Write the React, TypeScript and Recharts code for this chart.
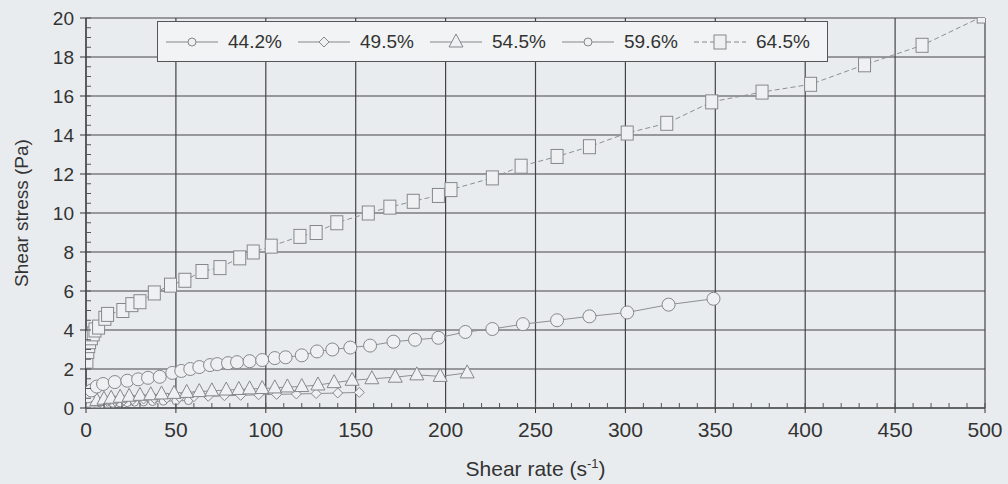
import React from 'react';
import {LineChart, Line, XAxis, YAxis, CartesianGrid} from 'recharts';

// shear rate (1/s) and shear stress (Pa)
const rate442 = [1, 2, 4, 6, 9, 12, 15, 19, 23, 27, 32, 37, 43, 50, 57];
const stress442 = [0.05, 0.1, 0.15, 0.18, 0.2, 0.22, 0.24, 0.26, 0.28, 0.3, 0.31, 0.33, 0.35, 0.37, 0.38];

const rate495 = [1, 3, 5, 8, 12, 16, 21, 26, 32, 38, 45, 52, 60, 68, 77, 86, 96, 106, 117, 128, 140, 152];
const stress495 = [0.15, 0.22, 0.27, 0.3, 0.34, 0.37, 0.4, 0.43, 0.46, 0.49, 0.52, 0.55, 0.58, 0.6, 0.63, 0.65, 0.68, 0.7, 0.72, 0.74, 0.77, 0.8];

const rate545 = [1, 3, 6, 10, 14, 19, 24, 30, 36, 42, 49, 56, 63, 70, 78, 85, 91, 98, 105, 112, 120, 129, 138, 148, 159, 172, 184, 197, 212];
const stress545 = [0.2, 0.3, 0.38, 0.45, 0.5, 0.55, 0.6, 0.65, 0.68, 0.72, 0.75, 0.8, 0.84, 0.88, 0.92, 0.95, 0.98, 1.0, 1.03, 1.08, 1.1, 1.18, 1.3, 1.42, 1.5, 1.58, 1.7, 1.62, 1.8];

const rate596 = [1, 3, 6, 9.5, 16, 23, 29, 34.5, 41, 48, 53, 58, 63, 69, 73, 79, 84, 91, 98, 105, 111, 120, 128.5, 137, 147, 158, 171, 183, 196, 211, 226, 243, 262, 280, 301, 324, 349];
const stress596 = [0.6, 0.9, 1.1, 1.23, 1.33, 1.4, 1.47, 1.55, 1.6, 1.8, 1.9, 2.0, 2.1, 2.2, 2.25, 2.3, 2.35, 2.4, 2.46, 2.56, 2.6, 2.7, 2.9, 3.0, 3.1, 3.2, 3.4, 3.5, 3.6, 3.9, 4.05, 4.3, 4.5, 4.7, 4.9, 5.3, 5.6];

const rate645 = [0.5, 1, 1.5, 2, 3, 4, 5, 7, 10.5, 12, 20.5, 25.5, 30, 38, 47, 55, 64.5, 74.5, 85.5, 93, 103, 119, 128, 139.5, 157, 169, 182, 196, 203, 226, 242, 262, 280, 301, 323, 348, 376, 403, 433, 465, 499];
const stress645 = [2.4, 2.9, 3.2, 3.4, 3.6, 3.8, 4.0, 4.15, 4.6, 4.8, 5.0, 5.3, 5.45, 5.9, 6.3, 6.55, 7.0, 7.2, 7.7, 8.0, 8.3, 8.8, 9.0, 9.5, 10.0, 10.3, 10.6, 10.9, 11.2, 11.8, 12.4, 12.9, 13.4, 14.1, 14.6, 15.7, 16.2, 16.6, 17.6, 18.6, 20.1];

const seriesNames = ['44.2%', '49.5%', '54.5%', '59.6%', '64.5%'];
const xTicks = [0, 50, 100, 150, 200, 250, 300, 350, 400, 450, 500];
const yTicks = [0, 2, 4, 6, 8, 10, 12, 14, 16, 18, 20];
const xMinorTicks = Array.from({length: 51}, (_, i) => i * 10);
const yMinorTicks = Array.from({length: 41}, (_, i) => i * 0.5);

const toPoints = (xs: number[], ys: number[]) => xs.map((x, i) => ({x, y: ys[i]}));

const MARK = '#85878a';
const FILL = '#eef0f2';
const BG = '#e9ecef';
const TEXT = '#333';
const SANS = 'Arial, "Liberation Sans", sans-serif';
const NARROW = '"Liberation Sans Narrow", Arial, sans-serif';

type Shape = 'circle' | 'smallCircle' | 'diamond' | 'triangle' | 'square';

const Marker = ({shape, cx, cy}: {shape: Shape; cx: number; cy: number}) => {
    if (shape === 'circle') return <circle cx={cx} cy={cy} r={6.5} fill={FILL} stroke={MARK} strokeWidth={1}/>;
    if (shape === 'smallCircle') return <circle cx={cx} cy={cy} r={4} fill={FILL} stroke={MARK} strokeWidth={1}/>;
    if (shape === 'diamond') return <path d={`M${cx},${cy - 5}L${cx + 5},${cy}L${cx},${cy + 5}L${cx - 5},${cy}Z`} fill={FILL} stroke={MARK} strokeWidth={1}/>;
    if (shape === 'triangle') return <path d={`M${cx},${cy - 8}L${cx + 7},${cy + 5}L${cx - 7},${cy + 5}Z`} fill={FILL} stroke={MARK} strokeWidth={1}/>;
    return <rect x={cx - 6} y={cy - 7} width={12} height={14} fill={FILL} stroke={MARK} strokeWidth={1}/>;
};

const dotOf = (shape: Shape) => (props: any) => (
    <Marker key={`${shape}-${props.index}`} shape={shape} cx={props.cx} cy={props.cy}/>
);

const series = [
    {name: seriesNames[0], data: toPoints(rate442, stress442), shape: 'smallCircle' as Shape, dash: undefined},
    {name: seriesNames[1], data: toPoints(rate495, stress495), shape: 'diamond' as Shape, dash: undefined},
    {name: seriesNames[2], data: toPoints(rate545, stress545), shape: 'triangle' as Shape, dash: undefined},
    {name: seriesNames[3], data: toPoints(rate596, stress596), shape: 'circle' as Shape, dash: undefined},
    {name: seriesNames[4], data: toPoints(rate645, stress645), shape: 'square' as Shape, dash: '5 3'},
];

const legendMarker: Shape[] = ['smallCircle', 'diamond', 'triangle', 'smallCircle', 'square'];

const ChartLegend = () => (
    <div style={{
        position: 'absolute', left: 157, top: 21, width: 671, height: 41,
        border: '1px solid #555', background: '#f1f3f4', display: 'flex', alignItems: 'center',
        boxSizing: 'border-box', paddingLeft: 6
    }}>
        {seriesNames.map((n, i) => (
            <div key={n} style={{display: 'flex', alignItems: 'center', width: 132}}>
                <svg width={56} height={20}>
                    <line x1={2} y1={10} x2={54} y2={10} stroke={MARK} strokeWidth={1}
                          strokeDasharray={i === 4 ? '5 3' : undefined}/>
                    <Marker shape={legendMarker[i]} cx={28} cy={10}/>
                </svg>
                <span style={{fontFamily: SANS, fontSize: 19, color: TEXT, marginLeft: 8}}>{n}</span>
            </div>
        ))}
    </div>
);

const X_MARGIN = 14;
const Y_MARGIN = 12;

// every 10 s-1 a short inward tick; labelled (with an outward tick) every 50
const XTick = ({x, y, payload}: any) => {
    const axisY = y - X_MARGIN;
    const major = payload.value % 50 === 0;
    return (
        <g>
            <line x1={x} y1={axisY} x2={x} y2={axisY - 5} stroke="#555"/>
            {major && <line x1={x} y1={axisY} x2={x} y2={axisY + 5} stroke={TEXT}/>}
            {major && (
                <text x={x} y={y} dy="0.71em" textAnchor="middle" fill={TEXT}
                      style={{fontFamily: NARROW, fontSize: 21}}>{payload.value}</text>
            )}
        </g>
    );
};

const YTick = ({x, y, payload}: any) => {
    const axisX = x + Y_MARGIN;
    const major = payload.value % 2 === 0;
    return (
        <g>
            <line x1={axisX} y1={y} x2={axisX + 5} y2={y} stroke="#555"/>
            {major && <line x1={axisX} y1={y} x2={axisX - 6} y2={y} stroke={TEXT}/>}
            {major && (
                <text x={x} y={y} dy="0.355em" textAnchor="end" fill={TEXT}
                      style={{fontFamily: SANS, fontSize: 19}}>{payload.value}</text>
            )}
        </g>
    );
};

const XLabel = ({viewBox}: any) => {
    const cx = viewBox.x + viewBox.width / 2;
    return (
        <text x={cx} y={476} textAnchor="middle" fill={TEXT} style={{fontFamily: NARROW, fontSize: 21}}>
            Shear rate (s<tspan dy={-8} fontSize={13}>-1</tspan><tspan dy={8}>)</tspan>
        </text>
    );
};

export default function App() {
    return (
        <div style={{position: 'fixed', left: 0, top: 0, width: 1008, height: 484, background: BG}}>
            <LineChart width={1008} height={484} margin={{top: 18, right: 23, bottom: 0, left: 26}}>
                <CartesianGrid stroke="#444" strokeWidth={1.2} horizontalValues={yTicks} verticalValues={xTicks}/>
                <XAxis type="number" dataKey="x" domain={[0, 500]} ticks={xMinorTicks} interval={0} height={76}
                       axisLine={{stroke: TEXT}} tickLine={false} tickSize={0} tickMargin={X_MARGIN}
                       tick={<XTick/>} label={<XLabel/>} allowDataOverflow/>
                <YAxis type="number" domain={[0, 20]} ticks={yMinorTicks} interval={0} width={60}
                       axisLine={{stroke: TEXT}} tickLine={false} tickSize={0} tickMargin={Y_MARGIN}
                       tick={<YTick/>}
                       label={{value: 'Shear stress (Pa)', angle: -90, position: 'insideLeft', dx: -10,
                           style: {textAnchor: 'middle', fill: TEXT, fontSize: 19, fontFamily: SANS}}}
                       allowDataOverflow/>
                {series.map(s => (
                    <Line key={s.name} data={s.data} dataKey="y" name={s.name} type="linear"
                          stroke="#8d8f92" strokeWidth={1} strokeDasharray={s.dash}
                          dot={dotOf(s.shape)} activeDot={false} isAnimationActive={false}/>
                ))}
            </LineChart>
            <ChartLegend/>
        </div>
    );
}
